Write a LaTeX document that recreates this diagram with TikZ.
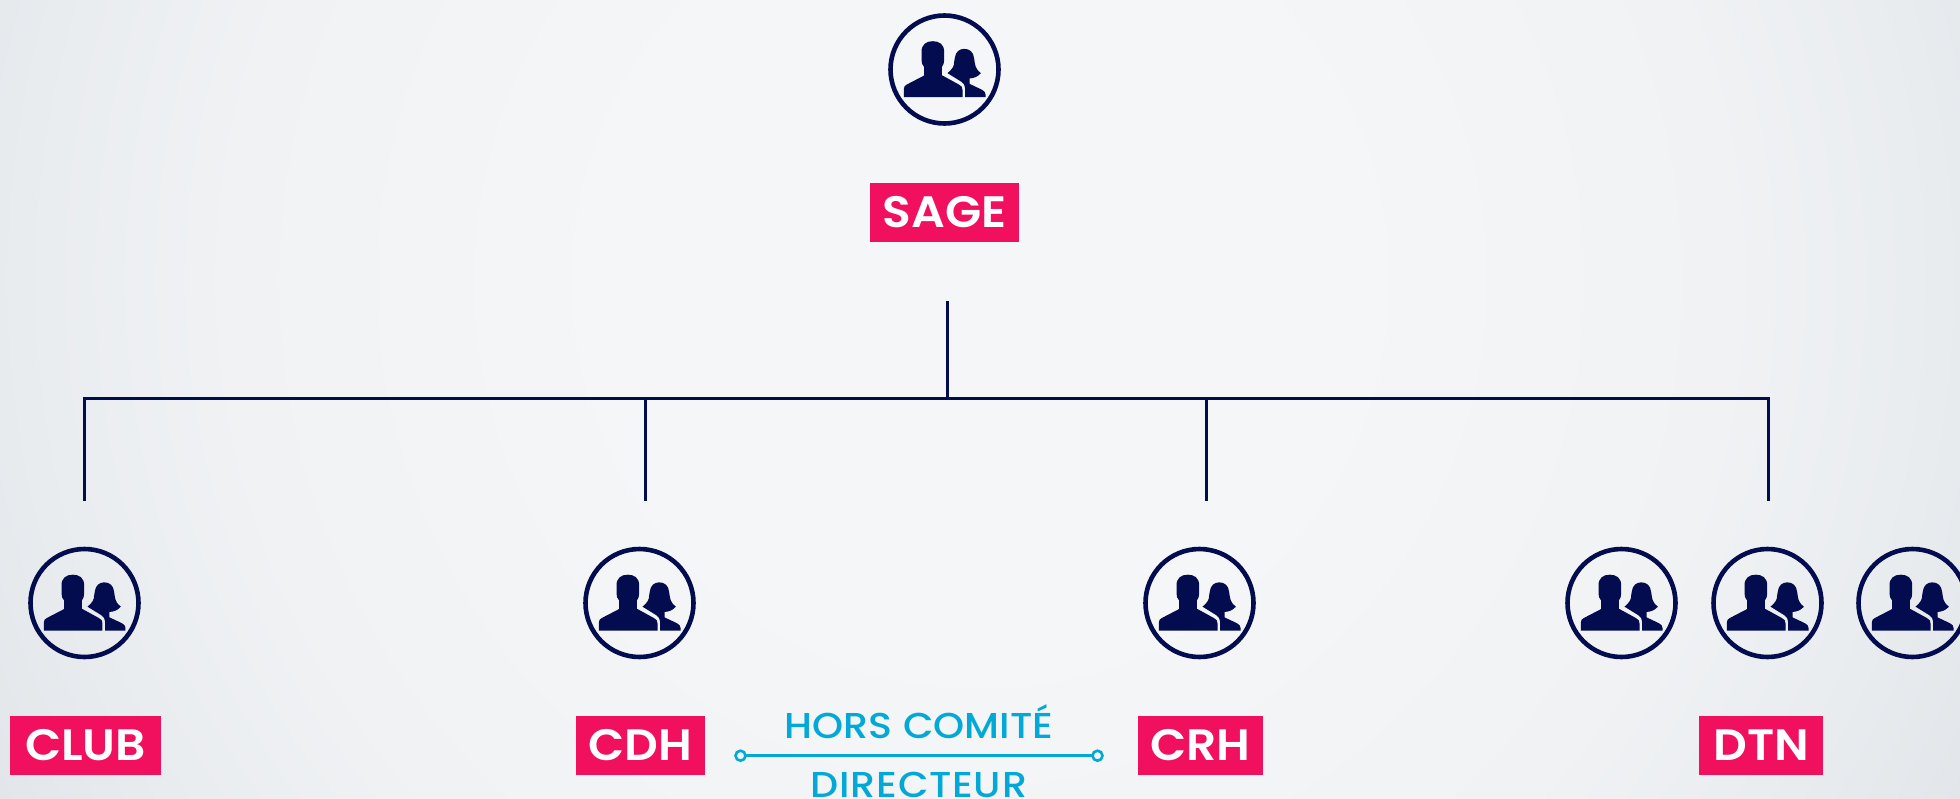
\documentclass[tikz,border=0pt]{standalone}
\usepackage{fontspec}
\setmainfont{Poppins}
\newfontfamily\boxfont[FakeStretch=1.07]{Poppins SemiBold}
\newfontfamily\cyanfont[FakeStretch=1.1]{Poppins Medium}
\definecolor{navy}{HTML}{020C4F}
\definecolor{pinkbox}{HTML}{F0105E}
\definecolor{cyanline}{HTML}{02A9D6}
\definecolor{bgmid}{HTML}{F5F6F8}
\definecolor{bgb}{HTML}{F0F2F4}
\definecolor{bgc}{HTML}{E9ECEF}
\definecolor{bgout}{HTML}{DFE3E7}
\pgfdeclareradialshading{bgshade}{\pgfpoint{0bp}{0bp}}{
  color(0bp)=(bgmid); color(6bp)=(bgmid); color(12.5bp)=(bgb); color(16bp)=(bgc); color(19.5bp)=(bgout); color(50bp)=(bgout)}
\tikzset{
  ring/.style={circle,draw=navy,line width=4.6pt,minimum size=108pt,inner sep=0pt,outer sep=0pt},
  label box/.style={fill=pinkbox,text=white,inner sep=0pt,outer sep=0pt,text height=30.5pt,text depth=0pt,font=\fontsize{44}{44}\boxfont\selectfont,anchor=center},
  wire/.style={draw=navy,line width=2.2pt,line cap=butt,line join=miter},
  cyan text/.style={text=cyanline,inner sep=0pt,anchor=base,font=\fontsize{36}{36}\cyanfont\selectfont},
  cyan line/.style={draw=cyanline,line width=2.6pt},
  cyan dot/.style={circle,draw=cyanline,line width=2.6pt,fill=none,minimum size=10pt,inner sep=0pt,outer sep=0pt}
}
\newcommand{\personicon}[2]{%
  \node[ring] (#1) at (#2) {};
  \begin{scope}[shift={(#2)},scale=0.3333,shift={(-253,-209)}]
    \fill[navy] (131,292) -- (131,268) .. controls (131,260) and (134,257) .. (140,254)
      -- (192,227) -- (192,202) .. controls (186,194) and (184,190) .. (184,180)
      -- (184,156) .. controls (184,134) and (198,124) .. (218,124)
      .. controls (238,124) and (252,134) .. (252,156)
      -- (252,180) .. controls (252,190) and (250,194) .. (245,202)
      -- (245,226) -- (296,254) .. controls (304,258) and (307,262) .. (307,270)
      -- (307,292) -- cycle;
    \fill[navy] (315,292) -- (315,266) .. controls (315,256) and (310,250) .. (304,246)
      -- (262,220) .. controls (276,208) and (282,200) .. (282,186)
      -- (284,174) .. controls (286,156) and (298,147) .. (312,147)
      .. controls (328,147) and (340,156) .. (342,176)
      -- (344,190) .. controls (346,204) and (352,212) .. (362,220)
      .. controls (354,230) and (342,235) .. (328,236)
      -- (328,252) -- (366,270) .. controls (373,274) and (376,278) .. (376,284)
      -- (376,292) -- cycle;
  \end{scope}}
\begin{document}
\begin{tikzpicture}[x=1pt,y=-1pt]
  \useasboundingbox (0,0) rectangle (1960,798);
  \clip (0,0) rectangle (1960,798);
  \shade[shading=bgshade] (-520,-1220) rectangle (2480,1780);

  \personicon{sageicon}{944.5,69.5}
  \personicon{clubicon}{84.5,603}
  \personicon{cdhicon}{639.5,603}
  \personicon{crhicon}{1199.5,603}
  \personicon{extraa}{1621.5,603}
  \personicon{dtnicon}{1767.5,603}
  \personicon{extrab}{1912.5,603}

  \node[label box,minimum width=149pt,minimum height=59pt] (sage) at (944.5,212) {SAGE};
  \node[label box,minimum width=151pt,minimum height=59pt] (club) at (85.5,745) {CLUB};
  \node[label box,minimum width=129pt,minimum height=59pt] (cdh) at (640.5,745) {CDH};
  \node[label box,minimum width=125pt,minimum height=59pt] (crh) at (1200.5,745) {CRH};
  \node[label box,minimum width=124pt,minimum height=59pt] (dtn) at (1761,745) {DTN};

  \coordinate (root) at (947.5,301);
  \coordinate (hub) at (947.5,398.5);
  \coordinate (busl) at (84.5,398.5);
  \coordinate (busb) at (645.5,398.5);
  \coordinate (busc) at (1206.5,398.5);
  \coordinate (busr) at (1768.5,398.5);
  \coordinate (dropl) at (84.5,501);
  \coordinate (dropb) at (645.5,501);
  \coordinate (dropc) at (1206.5,501);
  \coordinate (dropr) at (1768.5,501);
  \draw[wire] (root) -- (hub);
  \draw[wire] (dropl) -- (busl) -- (busr) -- (dropr);
  \draw[wire] (busb) -- (dropb);
  \draw[wire] (busc) -- (dropc);

  \node[cyan text] (hors) at (919,738) {HORS COMITÉ};
  \node[cyan text] (dir) at (919,797) {\addfontfeature{LetterSpace=2}DIRECTEUR};
  \node[cyan dot] (dotl) at (740.5,755.7) {};
  \node[cyan dot] (dotr) at (1097.5,755.7) {};
  \draw[cyan line] (dotl) -- (dotr);
\end{tikzpicture}
\end{document}
